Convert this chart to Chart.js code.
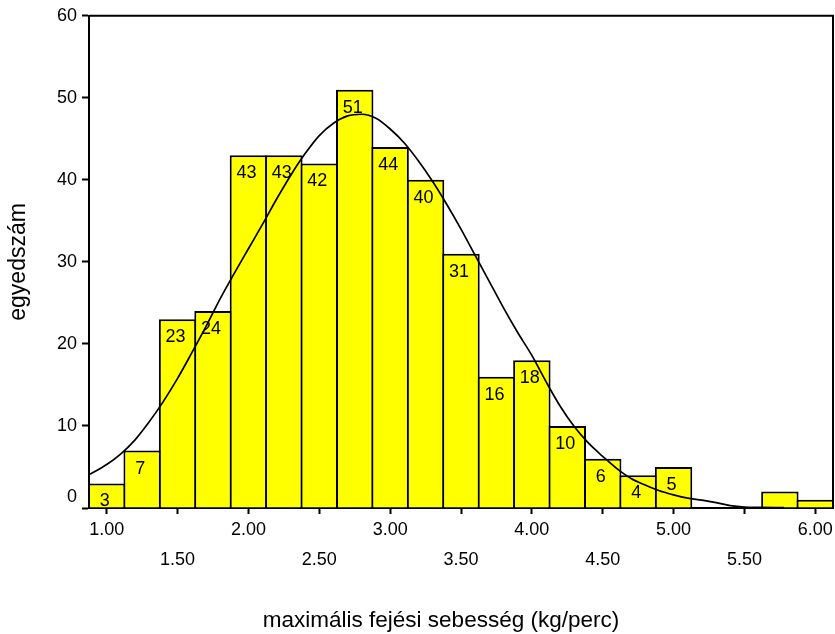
<!DOCTYPE html>
<html>
<head>
<meta charset="utf-8">
<script src="https://cdn.jsdelivr.net/npm/chart.js@4/dist/chart.umd.min.js"></script>
<style>
  html, body { margin: 0; padding: 0; background: #ffffff; }
  #wrap { width: 835px; height: 634px; position: relative; }
</style>
</head>
<body>
<div id="wrap"><canvas id="c" width="835" height="634"></canvas></div>
<script>
// Histogram bins (bin centre, kg/perc) and counts
const binCentres = [1.00, 1.25, 1.50, 1.75, 2.00, 2.25, 2.50, 2.75, 3.00, 3.25, 3.50,
                    3.75, 4.00, 4.25, 4.50, 4.75, 5.00, 5.25, 5.50, 5.75, 6.00];
const binCounts  = [3, 7, 23, 24, 43, 43, 42, 51, 44, 40, 31,
                    16, 18, 10, 6, 4, 5, 0, 0, 2, 1];

// Fitted normal curve, sampled along the axis
const curveX = [0.88, 1.00, 1.10, 1.20, 1.30, 1.40, 1.50, 1.60, 1.70, 1.80, 1.90,
                2.00, 2.10, 2.20, 2.30, 2.40, 2.50, 2.60, 2.70, 2.80, 2.90,
                3.00, 3.10, 3.20, 3.30, 3.40, 3.50, 3.60, 3.70, 3.80, 3.90,
                4.00, 4.10, 4.20, 4.30, 4.40, 4.50, 4.60, 4.70, 4.80, 4.90,
                5.00, 5.10, 5.20, 5.30, 5.40, 5.50, 5.60, 5.78];
const curveY = [4.1, 5.3, 6.6, 8.3, 10.5, 13.0, 15.8, 18.9, 22.1, 25.5, 28.6,
                31.6, 34.6, 37.7, 40.6, 43.2, 45.4, 46.9, 47.8, 48.0, 47.5,
                46.2, 44.5, 42.3, 39.8, 37.0, 34.0, 30.8, 27.6, 24.4, 21.4,
                18.6, 15.4, 12.4, 9.9, 7.9, 6.3, 4.8, 3.6, 2.8, 2.1,
                1.6, 1.2, 0.95, 0.65, 0.3, 0.12, 0.08, 0.05];

// Axis ticks
const xTickValues = [1.00, 1.50, 2.00, 2.50, 3.00, 3.50, 4.00, 4.50, 5.00, 5.50, 6.00];
const yTickValues = [0, 10, 20, 30, 40, 50, 60];

const xTitle = 'maximális fejési sebesség (kg/perc)';
const yTitle = 'egyedszám';

const FONT = '"Liberation Sans", Arial, Helvetica, sans-serif';

// Count labels written inside the top of each bar
const barLabels = {
  id: 'barLabels',
  afterDatasetDraw(chart, args) {
    if (args.index !== 0) return;
    const ctx = chart.ctx;
    const meta = chart.getDatasetMeta(0);
    ctx.save();
    ctx.font = '18px ' + FONT;
    ctx.fillStyle = '#000';
    ctx.textAlign = 'center';
    ctx.textBaseline = 'middle';
    meta.data.forEach((el, i) => {
      const v = binCounts[i];
      if (v < 3) return;
      ctx.fillText(String(v), el.x - 2, el.y + 18);
    });
    ctx.restore();
  }
};

// Closed frame around the plotting area and the horizontal axis title
const frame = {
  id: 'frame',
  afterDraw(chart) {
    const { ctx, chartArea: a } = chart;
    ctx.save();
    ctx.strokeStyle = '#000';
    ctx.lineWidth = 2;
    ctx.beginPath();
    ctx.moveTo(a.left, a.top);
    ctx.lineTo(a.right, a.top);
    ctx.lineTo(a.right, a.bottom);
    ctx.stroke();
    ctx.font = '22.5px ' + FONT;
    ctx.fillStyle = '#000';
    ctx.textAlign = 'center';
    ctx.textBaseline = 'middle';
    ctx.fillText(xTitle, (a.left + a.right) / 2 - 20, 621);
    ctx.restore();
  }
};

new Chart(document.getElementById('c'), {
  type: 'bar',
  data: {
    datasets: [
      {
        type: 'bar',
        data: binCentres.map((x, i) => ({ x: x, y: binCounts[i] })),
        backgroundColor: '#ffff00',
        borderColor: '#000000',
        borderWidth: 2,
        borderSkipped: 'start',
        // slight overlap so neighbouring outlines merge into one line
        barPercentage: 1.056,
        categoryPercentage: 1.0,
        order: 2
      },
      {
        type: 'line',
        data: curveX.map((x, i) => ({ x: x, y: curveY[i] })),
        borderColor: '#000000',
        borderWidth: 1.7,
        pointRadius: 0,
        fill: false,
        cubicInterpolationMode: 'monotone',
        order: 1
      }
    ]
  },
  options: {
    responsive: false,
    animation: false,
    devicePixelRatio: 1,
    layout: { padding: { left: 0, top: 14, right: 2, bottom: 0 } },
    plugins: { legend: { display: false }, tooltip: { enabled: false } },
    scales: {
      x: {
        type: 'linear',
        min: 0.875,
        max: 6.125,
        offset: false,
        afterBuildTicks(scale) { scale.ticks = xTickValues.map(v => ({ value: v })); },
        afterFit(scale) { scale.height = 126; },
        grid: { display: true, offset: false, drawOnChartArea: false, drawTicks: true, tickLength: 6, tickWidth: 2, color: '#000' },
        border: { display: true, color: '#000', width: 2 },
        ticks: {
          color: '#000',
          padding: 1,
          maxRotation: 0,
          autoSkip: false,
          font: { family: FONT, size: 18, lineHeight: '30px' },
          callback(value) {
            const s = Number(value).toFixed(2);
            return Math.round(value * 2) % 2 === 0 ? s : ['', s];
          }
        }
      },
      y: {
        min: 0,
        max: 60,
        afterBuildTicks(scale) { scale.ticks = yTickValues.map(v => ({ value: v })); },
        afterFit(scale) { scale.width = 89; },
        grid: { display: true, drawOnChartArea: false, drawTicks: true, tickLength: 7, tickWidth: 2, color: '#000' },
        border: { display: true, color: '#000', width: 2 },
        ticks: {
          color: '#000',
          padding: 5,
          font: { family: FONT, size: 18 },
          callback(value) { return value === 0 ? ['0', ''] : String(value); }
        },
        title: {
          display: true,
          text: yTitle,
          color: '#000',
          font: { family: FONT, size: 23 },
          padding: { top: 5, bottom: 0 }
        }
      }
    }
  },
  plugins: [barLabels, frame]
});
</script>
</body>
</html>
